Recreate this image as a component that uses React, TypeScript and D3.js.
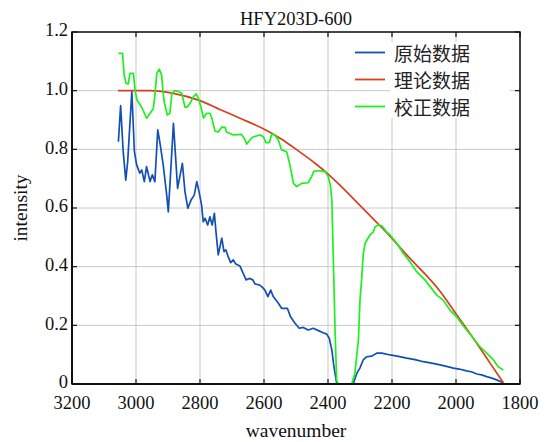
import * as d3 from "d3";

const title = "HFY203D-600";
const xTicks = [3200, 3000, 2800, 2600, 2400, 2200, 2000, 1800];
const yTicks = [0, 0.2, 0.4, 0.6, 0.8, 1.0, 1.2];
const seriesNames = ["原始数据", "理论数据", "校正数据"];
const seriesColors = ["#1450b4", "#d8401c", "#1ef01e"];

// [wavenumber, intensity]
const rawData: [number, number][] = [
  [3055, 0.826], [3048, 0.949], [3040, 0.792], [3032, 0.695], [3026, 0.758],
  [3013, 0.997], [3005, 0.792], [2998, 0.747], [2988, 0.719], [2982, 0.73],
  [2974, 0.69], [2967, 0.741], [2956, 0.69], [2949, 0.713], [2941, 0.69],
  [2932, 0.866], [2925, 0.821], [2915, 0.747], [2904, 0.644], [2899, 0.587],
  [2891, 0.735], [2883, 0.889], [2876, 0.769], [2870, 0.667], [2862, 0.713],
  [2855, 0.752], [2847, 0.656], [2838, 0.599], [2828, 0.627], [2818, 0.644],
  [2810, 0.69], [2803, 0.656], [2795, 0.61], [2790, 0.553], [2784, 0.565],
  [2776, 0.542], [2769, 0.57], [2762, 0.542], [2755, 0.582], [2750, 0.518],
  [2743, 0.44], [2732, 0.497], [2725, 0.451], [2719, 0.457], [2712, 0.434],
  [2704, 0.414], [2696, 0.423], [2688, 0.409], [2675, 0.402], [2665, 0.377],
  [2656, 0.355], [2646, 0.36], [2635, 0.355], [2628, 0.341], [2615, 0.338],
  [2607, 0.332], [2597, 0.32], [2588, 0.298], [2579, 0.32], [2571, 0.298],
  [2555, 0.275], [2545, 0.258], [2527, 0.258], [2517, 0.229], [2503, 0.207],
  [2490, 0.19], [2477, 0.193], [2462, 0.184], [2446, 0.19], [2430, 0.182],
  [2415, 0.175], [2404, 0.17], [2396, 0.156], [2388, 0.116], [2383, 0.071],
  [2378, 0.036], [2373, 0.004], [2369, 0], [2325, 0], [2321, 0.002],
  [2310, 0.036], [2300, 0.055], [2290, 0.082], [2279, 0.093], [2263, 0.095],
  [2248, 0.105], [2232, 0.105], [2206, 0.099], [2180, 0.094], [2154, 0.088],
  [2128, 0.083], [2102, 0.076], [2076, 0.071], [2050, 0.065], [2030, 0.06],
  [2008, 0.054], [1990, 0.051], [1967, 0.045], [1950, 0.041], [1935, 0.034],
  [1920, 0.031], [1904, 0.025], [1888, 0.02], [1873, 0.014], [1852, 0.004],
];

const theoryData: [number, number][] = [
  [3056, 1.0], [2956, 1.0], [2883, 0.991], [2800, 0.966], [2738, 0.936],
  [2675, 0.906], [2602, 0.87], [2550, 0.838], [2498, 0.799], [2446, 0.757],
  [2404, 0.72], [2362, 0.677], [2321, 0.632], [2258, 0.562], [2227, 0.528],
  [2154, 0.44], [2050, 0.316], [1998, 0.236], [1946, 0.156], [1894, 0.072],
  [1852, 0.004],
];

const correctedData: [number, number][] = [
  [3055, 1.127], [3042, 1.127], [3037, 1.053], [3031, 1.025], [3024, 1.023],
  [3019, 1.059], [3008, 1.059], [3003, 1.002], [2997, 0.968], [2990, 0.957],
  [2981, 0.941], [2967, 0.906], [2956, 0.923], [2946, 0.938], [2941, 0.985],
  [2935, 1.059], [2927, 1.073], [2920, 1.053], [2916, 1.002], [2912, 0.962],
  [2902, 0.917], [2894, 0.923], [2888, 0.991], [2878, 1.0], [2868, 0.997],
  [2857, 0.991], [2847, 0.944], [2840, 0.944], [2831, 0.957], [2821, 0.979],
  [2812, 0.989], [2805, 0.974], [2798, 0.948], [2789, 0.907], [2779, 0.923],
  [2769, 0.923], [2763, 0.906], [2753, 0.862], [2743, 0.859], [2732, 0.876],
  [2722, 0.875], [2717, 0.859], [2696, 0.849], [2670, 0.851], [2662, 0.838],
  [2654, 0.818], [2644, 0.832], [2635, 0.842], [2612, 0.849], [2602, 0.843],
  [2594, 0.823], [2583, 0.823], [2576, 0.852], [2566, 0.849], [2555, 0.832],
  [2545, 0.798], [2529, 0.792], [2519, 0.747], [2508, 0.684], [2498, 0.673],
  [2482, 0.684], [2462, 0.686], [2451, 0.707], [2444, 0.726], [2425, 0.727],
  [2409, 0.724], [2399, 0.707], [2392, 0.673], [2388, 0.627], [2383, 0.411],
  [2378, 0.184], [2373, 0.014], [2368, 0], [2326, 0], [2316, 0.036],
  [2305, 0.15], [2300, 0.286], [2295, 0.355], [2290, 0.44], [2284, 0.48],
  [2269, 0.508], [2258, 0.519], [2253, 0.536], [2243, 0.542], [2232, 0.539],
  [2217, 0.519], [2206, 0.508], [2185, 0.48], [2165, 0.446], [2144, 0.417],
  [2123, 0.383], [2097, 0.355], [2081, 0.332], [2060, 0.303], [2040, 0.286],
  [2019, 0.252], [1998, 0.229], [1977, 0.198], [1962, 0.178], [1946, 0.156],
  [1925, 0.127], [1904, 0.105], [1883, 0.082], [1868, 0.059], [1852, 0.048],
];

const serif = "'Liberation Serif', 'DejaVu Serif', serif";
const cjk = "'Noto Sans CJK SC', sans-serif";

export default function App() {
  const width = 545;
  const height = 442;
  const margin = { top: 32, right: 25, bottom: 58, left: 72 };
  const innerRight = width - margin.right;
  const innerBottom = height - margin.bottom;

  const xScale = d3.scaleLinear().domain([3200, 1800]).range([margin.left, innerRight]);
  const yScale = d3.scaleLinear().domain([0, 1.2]).range([innerBottom, margin.top]);

  const line = d3
    .line<[number, number]>()
    .x((d) => xScale(d[0]))
    .y((d) => yScale(d[1]));

  // theoretical curve is smooth
  const smoothLine = d3
    .line<[number, number]>()
    .x((d) => xScale(d[0]))
    .y((d) => yScale(d[1]))
    .curve(d3.curveMonotoneX);

  const paths = [
    line(rawData),
    smoothLine([...theoryData].sort((a, b) => xScale(a[0]) - xScale(b[0]))),
    line(correctedData),
  ];
  const tickLen = 5;

  return (
    <svg
      width={width}
      height={height}
      style={{ position: "absolute", left: 0, top: 0, background: "#fff" }}
    >
      <text x={296} y={25} textAnchor="middle" fontFamily={serif} fontSize={18.5} fill="#111">
        {title}
      </text>

      {xTicks.map((t) => (
        <line
          key={`xg-${t}`}
          x1={xScale(t)}
          x2={xScale(t)}
          y1={margin.top}
          y2={innerBottom}
          stroke="#c8c8c8"
          strokeWidth={1}
        />
      ))}
      {yTicks.map((t) => (
        <line
          key={`yg-${t}`}
          x1={margin.left}
          x2={innerRight}
          y1={yScale(t)}
          y2={yScale(t)}
          stroke="#c8c8c8"
          strokeWidth={1}
        />
      ))}

      {/* legend text box hides the grid */}
      <rect x={390} y={42} width={120} height={76} fill="#fff" />

      {paths.map((p, i) => (
        <path
          key={`s-${i}`}
          d={p ?? ""}
          fill="none"
          stroke={seriesColors[i]}
          strokeWidth={1.7}
          strokeLinejoin="round"
        />
      ))}

      {/* ticks */}
      {xTicks.map((t) => (
        <g key={`xt-${t}`}>
          <line x1={xScale(t)} x2={xScale(t)} y1={innerBottom} y2={innerBottom - tickLen} stroke="#111" strokeWidth={1.2} />
          <line x1={xScale(t)} x2={xScale(t)} y1={margin.top} y2={margin.top + tickLen} stroke="#111" strokeWidth={1.2} />
          <text x={xScale(t)} y={409} textAnchor="middle" fontFamily={serif} fontSize={18.5} fill="#111">
            {t}
          </text>
        </g>
      ))}
      {yTicks.map((t) => (
        <g key={`yt-${t}`}>
          <line x1={margin.left} x2={margin.left + tickLen} y1={yScale(t)} y2={yScale(t)} stroke="#111" strokeWidth={1.2} />
          <line x1={innerRight} x2={innerRight - tickLen} y1={yScale(t)} y2={yScale(t)} stroke="#111" strokeWidth={1.2} />
          <text
            x={68}
            y={yScale(t)}
            textAnchor="end"
            dominantBaseline="middle"
            fontFamily={serif}
            fontSize={18.5}
            fill="#111"
          >
            {t === 0 ? "0" : t.toFixed(1)}
          </text>
        </g>
      ))}

      <rect
        x={margin.left}
        y={margin.top}
        width={innerRight - margin.left}
        height={innerBottom - margin.top}
        fill="none"
        stroke="#111"
        strokeWidth={1.5}
      />
      <line x1={margin.left} x2={margin.left} y1={margin.top} y2={innerBottom} stroke="#111" strokeWidth={2} />
      <line x1={margin.left} x2={innerRight} y1={innerBottom} y2={innerBottom} stroke="#111" strokeWidth={2} />

      {/* legend */}
      {seriesNames.map((name, i) => {
        const ly = 52.5 + i * 27;
        return (
          <g key={`lg-${name}`}>
            <line x1={355} x2={385} y1={ly} y2={ly} stroke={seriesColors[i]} strokeWidth={1.8} />
            <text x={394} y={ly} dominantBaseline="central" fontFamily={cjk} fontSize={19} fill="#222">
              {name}
            </text>
          </g>
        );
      })}

      <text x={296} y={437} textAnchor="middle" fontFamily={serif} fontSize={19.5} fill="#111">
        wavenumber
      </text>
      <text
        x={27}
        y={208}
        transform="rotate(-90, 27, 208)"
        textAnchor="middle"
        fontFamily={serif}
        fontSize={19.5}
        fill="#111"
      >
        intensity
      </text>
    </svg>
  );
}
